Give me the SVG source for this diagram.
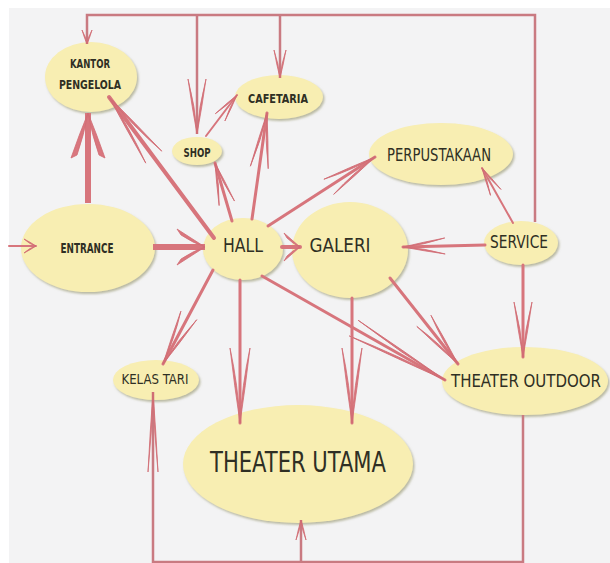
<svg xmlns="http://www.w3.org/2000/svg" width="610" height="563" viewBox="0 0 610 563">
<style>
.bg{fill:#f3f3f4}
.node{fill:#f8eeb2;filter:url(#sh)}
.lbl{font-family:"DejaVu Sans Condensed","DejaVu Sans",sans-serif;fill:#2f2f24;text-anchor:middle}
.b{font-weight:bold}
.c{fill:none;stroke:#d7757c;stroke-width:3;stroke-linecap:round}
.thin{stroke-width:2}
.thick{stroke-width:6;stroke-linecap:butt}
.med{stroke-width:4}
.frame{fill:none;stroke:#c97a81;stroke-width:2.5}
.hd{fill:#d9767e;stroke:#d06c74;stroke-width:0.8;stroke-linejoin:round}
</style>
<defs>
<filter id="sh" x="-10%" y="-10%" width="125%" height="130%">
<feDropShadow dx="1.5" dy="2" stdDeviation="1" flood-color="#8b8a60" flood-opacity="0.55"/>
</filter>
<marker id="a12" markerUnits="userSpaceOnUse" markerWidth="1" markerHeight="1" refX="0" refY="0" orient="auto" overflow="visible"><path class="hd" d="M0,0 Q-6,-4 -12,-7 Q-6,-1.5 0,0 Z M0,0 Q-6,4 -12,7 Q-6,1.5 0,0 Z"/></marker>
<marker id="a14" markerUnits="userSpaceOnUse" markerWidth="1" markerHeight="1" refX="0" refY="0" orient="auto" overflow="visible"><path class="hd" d="M0,0 Q-7,-3 -14,-5 Q-7,-1 0,0 Z M0,0 Q-7,3 -14,5 Q-7,1 0,0 Z"/></marker>
<marker id="a20" markerUnits="userSpaceOnUse" markerWidth="1" markerHeight="1" refX="0" refY="0" orient="auto" overflow="visible"><path class="hd" d="M0,0 Q-10,-3 -20,-5 Q-10,-1 0,0 Z M0,0 Q-10,3 -20,5 Q-10,1 0,0 Z"/></marker>
<marker id="a28" markerUnits="userSpaceOnUse" markerWidth="1" markerHeight="1" refX="0" refY="0" orient="auto" overflow="visible"><path class="hd" d="M0,0 Q-14,-3.5 -28,-6 Q-14,-1.2 0,0 Z M0,0 Q-14,3.5 -28,6 Q-14,1.2 0,0 Z"/></marker>
<marker id="a42" markerUnits="userSpaceOnUse" markerWidth="1" markerHeight="1" refX="0" refY="0" orient="auto" overflow="visible"><path class="hd" d="M0,0 Q-21,-4.5 -42,-8 Q-21,-1.5 0,0 Z M0,0 Q-21,4.5 -42,8 Q-21,1.5 0,0 Z"/></marker>
<marker id="a55" markerUnits="userSpaceOnUse" markerWidth="1" markerHeight="1" refX="0" refY="0" orient="auto" overflow="visible"><path class="hd" d="M0,0 Q-27,-5 -55,-9 Q-27,-1.6 0,0 Z M0,0 Q-27,5 -55,9 Q-27,1.6 0,0 Z"/></marker>
<marker id="a75" markerUnits="userSpaceOnUse" markerWidth="1" markerHeight="1" refX="0" refY="0" orient="auto" overflow="visible"><path class="hd" d="M0,0 Q-37,-5.5 -75,-10 Q-37,-1.8 0,0 Z M0,0 Q-37,5.5 -75,10 Q-37,1.8 0,0 Z"/></marker>
<marker id="a75n" markerUnits="userSpaceOnUse" markerWidth="1" markerHeight="1" refX="0" refY="0" orient="auto" overflow="visible"><path class="hd" d="M0,0 Q-40,-3 -80,-5 Q-40,-1 0,0 Z M0,0 Q-40,3 -80,5 Q-40,1 0,0 Z"/></marker>
<marker id="a105" markerUnits="userSpaceOnUse" markerWidth="1" markerHeight="1" refX="0" refY="0" orient="auto" overflow="visible"><path class="hd" d="M0,0 Q-52,-5 -105,-9 Q-52,-1.6 0,0 Z M0,0 Q-52,5 -105,9 Q-52,1.6 0,0 Z"/></marker>
<marker id="t45" markerUnits="userSpaceOnUse" markerWidth="1" markerHeight="1" refX="0" refY="0" orient="auto" overflow="visible"><path class="hd" d="M0,0 Q-22,-9 -45,-17 L-42,-11 Q-22,-4 0,0 Z M0,0 Q-22,9 -45,17 L-42,11 Q-22,4 0,0 Z"/></marker>
<marker id="t28" markerUnits="userSpaceOnUse" markerWidth="1" markerHeight="1" refX="0" refY="0" orient="auto" overflow="visible"><path class="hd" d="M0,0 Q-14,-9 -28,-18 L-24,-12 Q-12,-4 0,0 Z M0,0 Q-14,9 -28,18 L-24,12 Q-12,4 0,0 Z"/></marker>
<marker id="t16" markerUnits="userSpaceOnUse" markerWidth="1" markerHeight="1" refX="0" refY="0" orient="auto" overflow="visible"><path class="hd" d="M0,0 Q-8,-7 -16,-14 L-13,-9 Q-7,-3 0,0 Z M0,0 Q-8,7 -16,14 L-13,9 Q-7,3 0,0 Z"/></marker>
</defs>
<rect x="0" y="0" width="610" height="563" fill="#ffffff"/>
<rect class="bg" x="9" y="8" width="601" height="555"/>

<g id="node-kantor"><ellipse class="node" cx="91" cy="77" rx="46" ry="35"/><text class="lbl b" x="90" y="68" font-size="13" textLength="40" lengthAdjust="spacingAndGlyphs">KANTOR</text><text class="lbl b" x="90" y="89" font-size="13" textLength="62" lengthAdjust="spacingAndGlyphs">PENGELOLA</text></g>
<g id="node-cafetaria"><ellipse class="node" cx="279" cy="97" rx="44" ry="22"/><text class="lbl b" x="278" y="103" font-size="13" textLength="60" lengthAdjust="spacingAndGlyphs">CAFETARIA</text></g>
<g id="node-shop"><ellipse class="node" cx="197" cy="151" rx="25" ry="14"/><text class="lbl b" x="197" y="157" font-size="13" textLength="27" lengthAdjust="spacingAndGlyphs">SHOP</text></g>
<g id="node-perpustakaan"><ellipse class="node" cx="441" cy="154" rx="72" ry="31"/><text class="lbl" x="439" y="161" font-size="17" textLength="104" lengthAdjust="spacingAndGlyphs">PERPUSTAKAAN</text></g>
<g id="node-entrance"><ellipse class="node" cx="88" cy="248" rx="67" ry="44"/><text class="lbl b" x="87" y="253" font-size="14" textLength="53" lengthAdjust="spacingAndGlyphs">ENTRANCE</text></g>
<g id="node-hall"><ellipse class="node" cx="243" cy="249" rx="40" ry="31"/><text class="lbl" x="243" y="252" font-size="20" textLength="40" lengthAdjust="spacingAndGlyphs">HALL</text></g>
<g id="node-galeri"><ellipse class="node" cx="350" cy="250" rx="58" ry="48"/><text class="lbl" x="340" y="252" font-size="20" textLength="61" lengthAdjust="spacingAndGlyphs">GALERI</text></g>
<g id="node-service"><ellipse class="node" cx="521" cy="243" rx="37" ry="22"/><text class="lbl" x="519" y="248" font-size="17" textLength="58" lengthAdjust="spacingAndGlyphs">SERVICE</text></g>
<g id="node-theater-outdoor"><ellipse class="node" cx="525" cy="381" rx="83" ry="34"/><text class="lbl" x="526" y="387" font-size="17" textLength="150" lengthAdjust="spacingAndGlyphs">THEATER OUTDOOR</text></g>
<g id="node-kelas-tari"><ellipse class="node" cx="156" cy="380" rx="43" ry="20"/><text class="lbl" x="155" y="384" font-size="14" textLength="67" lengthAdjust="spacingAndGlyphs">KELAS TARI</text></g>
<g id="node-theater-utama"><ellipse class="node" cx="298" cy="464" rx="115" ry="59"/><text class="lbl" x="298" y="472" font-size="28" textLength="176" lengthAdjust="spacingAndGlyphs">THEATER UTAMA</text></g>

<g id="connectors">
<path class="frame" d="M535,222 L535,15 L87,15 L87,44" marker-end="url(#a14)"/>
<path class="frame" d="M197,15 L197,134" marker-end="url(#a55)"/>
<path class="frame" d="M280,15 L280,78" marker-end="url(#a28)"/>
<path class="frame" d="M523,415 L523,562 L153,562 L153,392" marker-end="url(#a75n)"/>
<path class="frame" d="M301,562 L301,520" marker-end="url(#a20)"/>
<path class="c thin" d="M9,246 L36,246" marker-end="url(#a12)"/>
<path class="c thick" d="M88,203 L88,113" marker-end="url(#t45)"/>
<path class="c thick" d="M153,247 L205,247" marker-end="url(#t28)"/>
<path class="c med" d="M214,238 L109,97" marker-end="url(#a75)"/>
<path class="c" d="M232,221 L215,163" marker-end="url(#a42)"/>
<path class="c thin" d="M206,136 L237,95" marker-end="url(#a28)"/>
<path class="c" d="M252,219 L267,113" marker-end="url(#a55)"/>
<path class="c" d="M268,226 L375,157" marker-end="url(#a55)"/>
<path class="c med" d="M282,247 L300,247" marker-end="url(#t16)"/>
<path class="c" d="M485,245 L403,247" marker-end="url(#a42)"/>
<path class="c thin" d="M513,223 L482,168" marker-end="url(#a28)"/>
<path class="c" d="M523,265 L523,357" marker-end="url(#a55)"/>
<path class="c" d="M390,278 L458,364" marker-end="url(#a55)"/>
<path class="c" d="M262,276 L445,380" marker-end="url(#a105)"/>
<path class="c" d="M213,270 L163,364" marker-end="url(#a55)"/>
<path class="c" d="M240,280 L240,423" marker-end="url(#a75)"/>
<path class="c" d="M352,298 L352,423" marker-end="url(#a75)"/>
</g>
</svg>
